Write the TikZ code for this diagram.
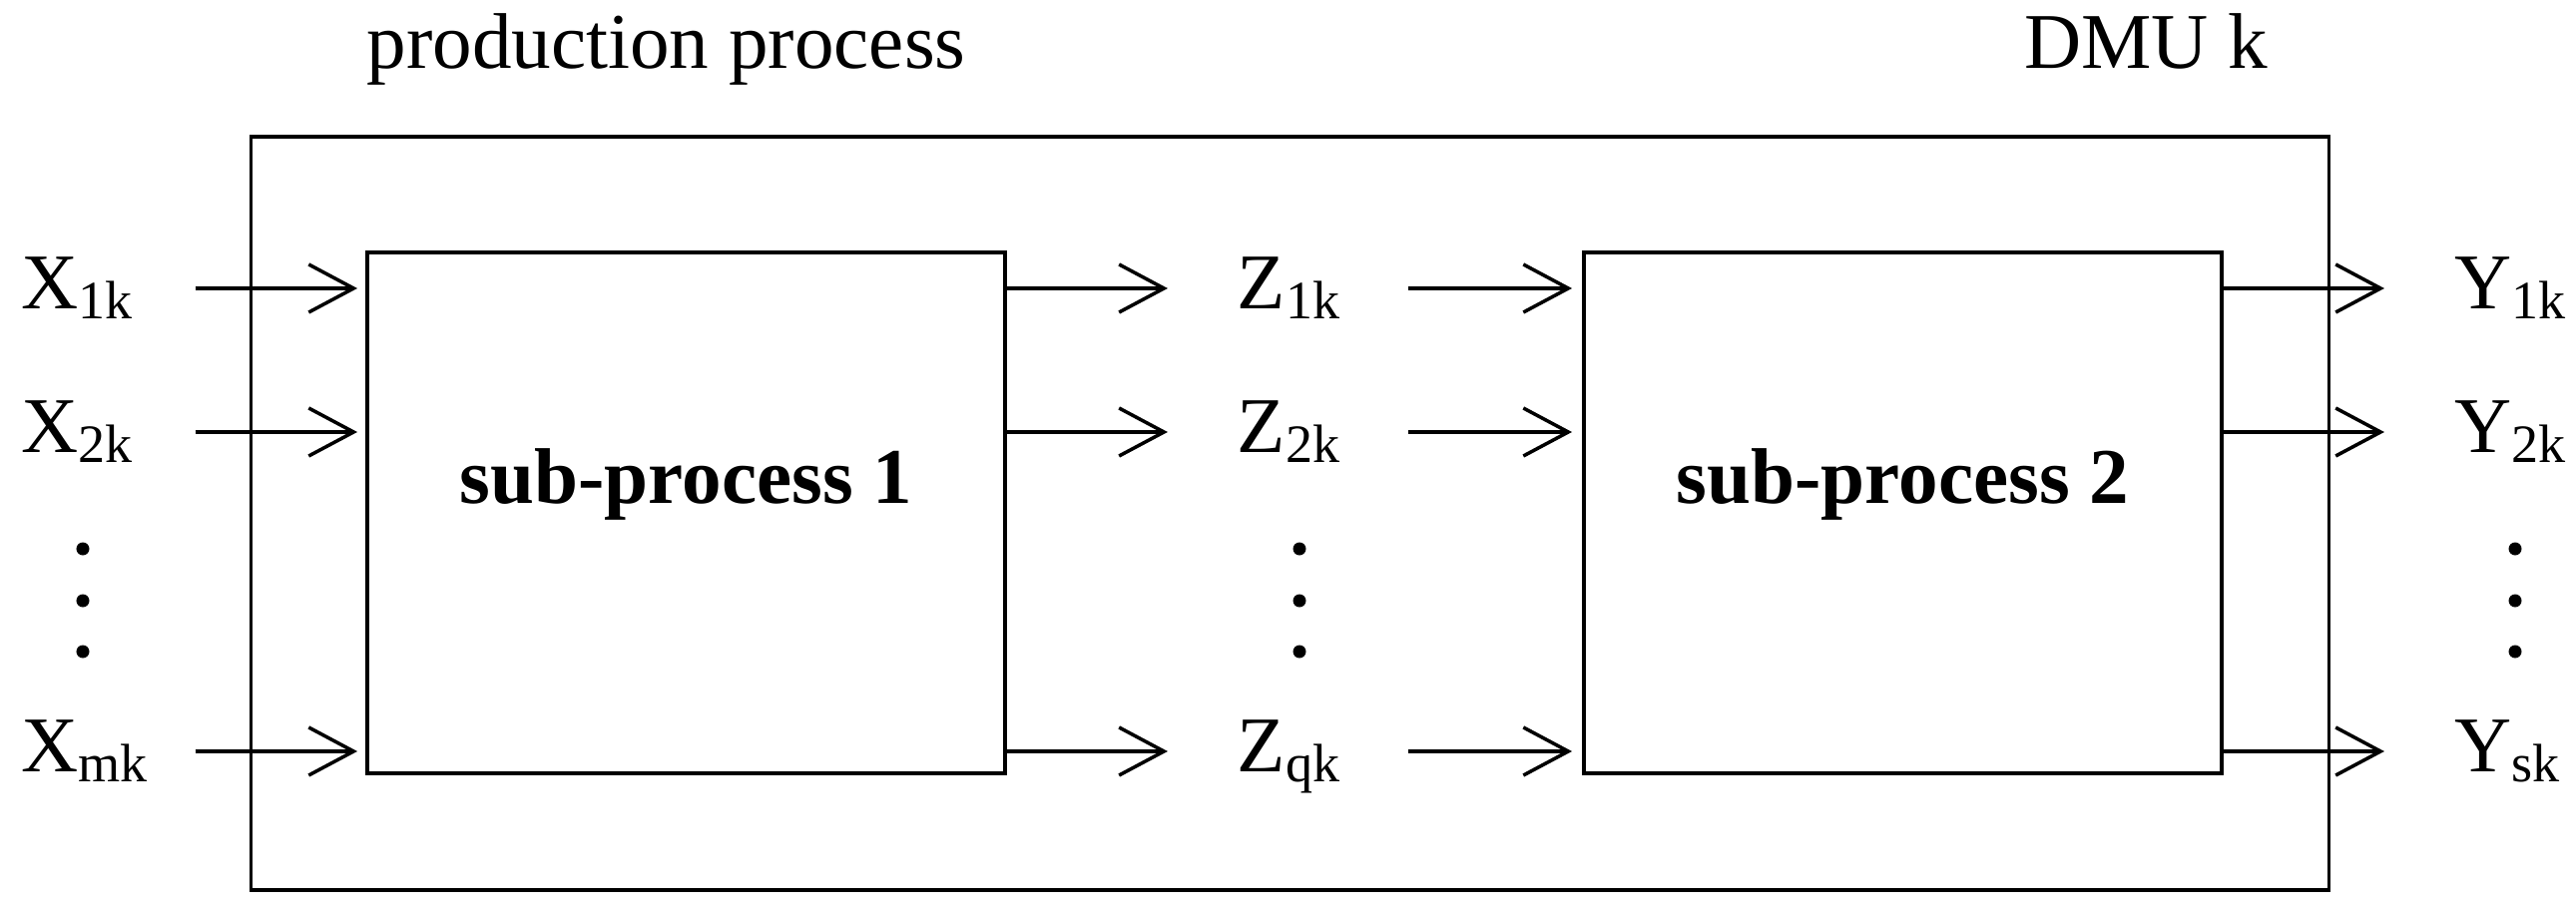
\documentclass[tikz,border=0pt]{standalone}
\usepackage{fontspec}
\setmainfont{Liberation Serif}
\usetikzlibrary{arrows.meta}
\newcommand\lsub[1]{\raisebox{-0.1cm}{\fontsize{15.4pt}{15.4pt}\selectfont #1}}
\begin{document}
\begin{tikzpicture}[x=0.01cm,y=-0.01cm,
  lw/.style={line width=0.035cm},
  txt/.style={font=\fontsize{22.5pt}{27pt}\selectfont},
  lab/.style={txt,inner sep=0pt,anchor=base west},
  box/.style={draw,lw,rectangle,inner sep=0pt,minimum width=6.39cm,minimum height=5.22cm,
    text height=0pt,text depth=0.18cm,font=\fontsize{22.5pt}{27pt}\selectfont\bfseries},
  arr/.style={lw,-{Straight Barb[length=0.45cm,width=0.48cm]}},
  dotfill/.style={fill=black}]
\useasboundingbox (0,0) rectangle (2581,915);
% outer DMU box
\node[draw,lw,inner sep=0pt,minimum width=20.81cm,minimum height=7.55cm] (dmu) at (1292.5,514.5) {};
\node[lab] (pp) at (367,68) {production process};
\node[txt,inner sep=0pt,anchor=base] (dmuk) at (2150,68) {DMU k};
% sub-processes
\node[box] (sub1) at (687.5,514) {sub-process 1};
\node[box] (sub2) at (1906.5,514) {sub-process 2};
% labels
\node[lab] (x1) at (21,309) {X\lsub{1k}};
\node[lab] (x2) at (21,453) {X\lsub{2k}};
\node[lab] (xm) at (21,773) {X\lsub{mk}};
\node[lab] (z1) at (1239,309) {Z\lsub{1k}};
\node[lab] (z2) at (1239,453) {Z\lsub{2k}};
\node[lab] (zq) at (1239,773) {Z\lsub{qk}};
\node[lab] (y1) at (2459,309) {Y\lsub{1k}};
\node[lab] (y2) at (2459,453) {Y\lsub{2k}};
\node[lab] (ys) at (2459,773) {Y\lsub{sk}};
% column positions of arrow free ends
\coordinate (xcol) at ([xshift=0.62cm]x1.base east);
\coordinate (zin) at ([xshift=-0.69cm]z1.base west);
\coordinate (zout) at ([xshift=0.68cm]z1.base east);
\coordinate (yin) at ([xshift=-0.70cm]y1.base west);
% arrows
\foreach \n in {1,2,m}{
  \coordinate (xr\n) at ([yshift=0.2cm]x\n.base west);
  \draw[arr,shorten >=0.08cm] (xcol |- xr\n) -- (xr\n -| sub1.west);
}
\foreach \n in {1,2,q}{
  \coordinate (zr\n) at ([yshift=0.2cm]z\n.base west);
  \draw[arr] (zr\n -| sub1.east) -- (zin |- zr\n);
  \draw[arr,shorten >=0.1cm] (zout |- zr\n) -- (zr\n -| sub2.west);
}
\foreach \n in {1,2,s}{
  \coordinate (yr\n) at ([yshift=0.2cm]y\n.base west);
  \draw[arr] (yr\n -| sub2.east) -- (yin |- yr\n);
}
% vertical dots
\foreach \xx in {83,1302,2520}
  \foreach \yy in {550,602,653}
    \fill[dotfill] (\xx,\yy) circle (0.065cm);
\end{tikzpicture}
\end{document}
